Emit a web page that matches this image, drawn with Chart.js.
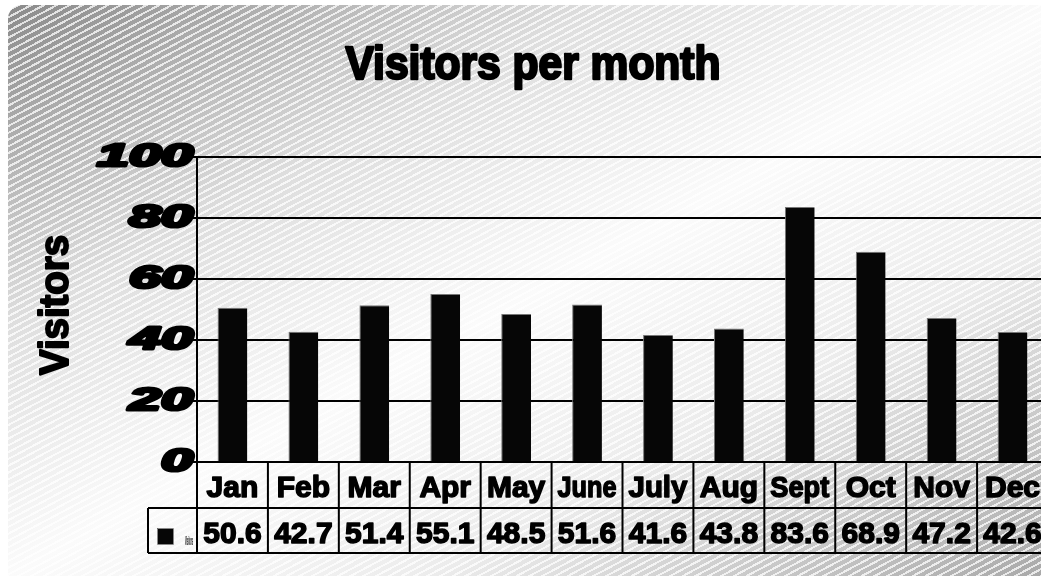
<!DOCTYPE html>
<html>
<head>
<meta charset="utf-8">
<script src="https://cdn.jsdelivr.net/npm/chart.js@4"></script>
<style>
html, body { margin: 0; padding: 0; width: 1041px; height: 581px; overflow: hidden; background: #fff; }
#panel {
  position: absolute; left: 8px; top: 5px; width: 1060px; height: 571px;
  border-radius: 14px 0 0 0;
  background:
    repeating-linear-gradient(152deg, rgba(255,255,255,0) 0px, rgba(255,255,255,0) 4px, rgba(255,255,255,.75) 4px, rgba(255,255,255,.75) 6px),
    linear-gradient(to bottom right, #8a8a8a 0%, #dedede 28%, #fbfbfb 50%, #ececec 70%, #a6a6a6 100%);
}
#chart { position: absolute; left: 0; top: 0; }
</style>
</head>
<body>
<div id="panel"></div>
<canvas id="chart" width="1060" height="581"></canvas>
<script>
// chart data
const chartTitle = 'Visitors per month';
const yTitle = 'Visitors';
const seriesName = 'Visitors';
const months = ['Jan', 'Feb', 'Mar', 'Apr', 'May', 'June', 'July', 'Aug', 'Sept', 'Oct', 'Nov', 'Dec'];
const visitors = [50.6, 42.7, 51.4, 55.1, 48.5, 51.6, 41.6, 43.8, 83.6, 68.9, 47.2, 42.6];
const yTicks = [0, 20, 40, 60, 80, 100];

const font = '"Liberation Sans", Arial, sans-serif';

// heavy text: fill plus a stroke of the same colour
function heavy(ctx, text, x, y, w, maxW) {
  ctx.lineWidth = w;
  ctx.lineJoin = 'round';
  if (maxW) {
    ctx.strokeText(text, x, y, maxW);
    ctx.fillText(text, x, y, maxW);
  } else {
    ctx.strokeText(text, x, y);
    ctx.fillText(text, x, y);
  }
}

// title, axis labels and the data table under the plot
const sheet = {
  id: 'sheet',
  afterDraw(chart) {
    const ctx = chart.ctx;
    const x = chart.scales.x, y = chart.scales.y;
    const step = x.getPixelForValue(1) - x.getPixelForValue(0);
    const left = x.getPixelForValue(0) - step / 2;
    const right = x.getPixelForValue(months.length - 1) + step / 2;
    const top = y.getPixelForValue(0), mid = top + 46, bot = mid + 45;
    const legendLeft = left - 49;

    ctx.save();
    ctx.fillStyle = '#000';
    ctx.strokeStyle = '#000';

    // title
    ctx.font = 'bold 46px ' + font;
    ctx.textAlign = 'center';
    ctx.textBaseline = 'alphabetic';
    heavy(ctx, chartTitle, 533, 79, 2.5, 375);

    // y axis title
    ctx.save();
    ctx.translate(68, 305);
    ctx.rotate(-Math.PI / 2);
    ctx.font = 'bold 40px ' + font;
    heavy(ctx, yTitle, 0, 0, 2, 140);
    ctx.restore();

    // y tick labels
    ctx.font = 'italic bold 32px ' + font;
    ctx.textAlign = 'right';
    ctx.textBaseline = 'middle';
    y.ticks.forEach(t => {
      ctx.save();
      ctx.translate(left - 4, y.getPixelForValue(t.value));
      ctx.scale(1.8, 1);
      heavy(ctx, String(t.value), 0, 0, 3);
      ctx.restore();
    });

    // table grid
    ctx.lineWidth = 2;
    ctx.beginPath();
    ctx.moveTo(left, top); ctx.lineTo(right, top);
    ctx.moveTo(legendLeft, mid); ctx.lineTo(right, mid);
    ctx.moveTo(legendLeft, bot); ctx.lineTo(right, bot);
    ctx.moveTo(legendLeft, mid); ctx.lineTo(legendLeft, bot);
    for (let i = 0; i <= months.length; i++) {
      const px = left + i * step;
      ctx.moveTo(px, top); ctx.lineTo(px, bot);
    }
    ctx.stroke();

    // table text
    ctx.font = 'bold 30px ' + font;
    ctx.textAlign = 'center';
    ctx.textBaseline = 'alphabetic';
    months.forEach((m, i) => {
      const cx = x.getPixelForValue(i);
      heavy(ctx, m, cx, top + 35, 1.5, step - 12);
      heavy(ctx, visitors[i].toFixed(1), cx, mid + 35, 1.5, step - 12);
    });

    // legend key
    ctx.fillStyle = '#060606';
    ctx.fillRect(legendLeft + 9, mid + 20, 16, 16);
    ctx.strokeStyle = '#888';
    ctx.lineWidth = 1;
    ctx.strokeRect(legendLeft + 9.5, mid + 20.5, 16, 16);
    ctx.fillStyle = '#000';
    ctx.font = 'bold 12px ' + font;
    ctx.fillText(seriesName, legendLeft + 41, mid + 37, 8);

    ctx.restore();
  }
};

new Chart(document.getElementById('chart'), {
  type: 'bar',
  data: {
    labels: months,
    datasets: [{
      label: seriesName,
      data: visitors,
      backgroundColor: '#060606',
      borderColor: '#777',
      borderWidth: { top: 1, left: 1, right: 0, bottom: 0 },
      categoryPercentage: 1,
      barPercentage: 0.42
    }]
  },
  options: {
    responsive: false,
    animation: false,
    layout: { padding: { left: 191, right: 12, top: 157, bottom: 119 } },
    plugins: {
      legend: { display: false },
      title: { display: false },
      tooltip: { enabled: false }
    },
    scales: {
      x: { display: false },
      y: {
        min: 0,
        max: 100,
        afterBuildTicks: axis => { axis.ticks = yTicks.map(v => ({ value: v })); },
        ticks: { display: false },
        grid: { color: '#000', lineWidth: 2, drawTicks: true, tickLength: 6 },
        border: { display: true, color: '#000', width: 2 }
      }
    }
  },
  plugins: [sheet]
});
</script>
</body>
</html>
